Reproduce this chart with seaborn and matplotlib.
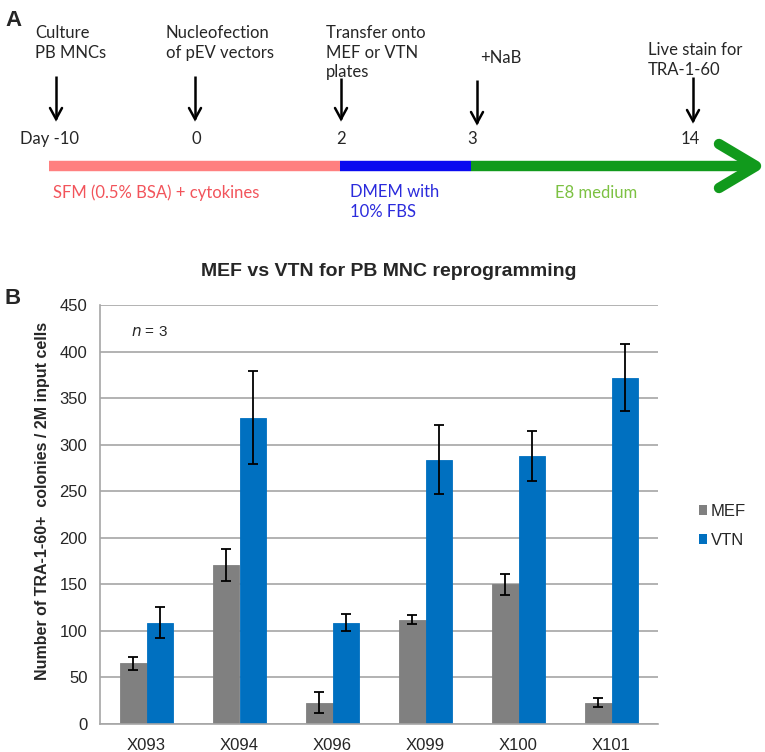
"""Reprogramming timeline (A) and MEF vs VTN colony counts (B)."""
import matplotlib
matplotlib.use("Agg")
import matplotlib.pyplot as plt
from matplotlib.ticker import MultipleLocator
import pandas as pd
import seaborn as sns

sns.set_style("white")
plt.rcParams["font.family"] = ["Liberation Sans", "DejaVu Sans"]

# ---- panel A: timeline ----
event_text = ["Culture\nPB MNCs", "Nucleofection\nof pEV vectors",
              "Transfer onto\nMEF or VTN\nplates", "+NaB", "Live stain for\nTRA-1-60"]
event_days = ["Day -10", "0", "2", "3", "14"]
phase_text = ["SFM (0.5% BSA) + cytokines", "DMEM with\n10% FBS", "E8 medium"]

# ---- panel B: colony counts (mean, error) ----
lines = ["X093", "X094", "X096", "X099", "X100", "X101"]
mef_mean = [65, 171, 23, 112, 150, 23]
mef_err = [7, 17, 11, 5, 11, 5]
vtn_mean = [109, 329, 109, 284, 288, 372]
vtn_err = [17, 50, 9, 37, 27, 36]

W, H = 765, 752
fig = plt.figure(figsize=(W / 100, H / 100), dpi=100)

# overlay axes in pixel units for the timeline drawing
ax_a = fig.add_axes([0, 0, 1, 1])
ax_a.set_xlim(0, W); ax_a.set_ylim(H, 0); ax_a.axis("off")

TL_FONT = ["Lato", "DejaVu Sans"]
ax_a.text(5, 20, "A", fontsize=16, fontweight="bold", va="center")
ax_a.text(5, 298, "B", fontsize=16, fontweight="bold", va="center")

text_pos = [(35, 25), (166, 25), (326, 25), (480, 50), (648, 42)]
for (x, y), t in zip(text_pos, event_text):
    ax_a.text(x, y, t, fontsize=12, family=TL_FONT, va="top", ha="left",
              linespacing=1.28)

arrow_x = [56, 195, 341, 477, 693]
arrow_top = [76, 76, 78, 80, 77]
arrow_bot = [119, 119, 119, 123, 121]
for x, y0, y1 in zip(arrow_x, arrow_top, arrow_bot):
    ax_a.plot([x, x], [y0, y1], color="black", lw=1.8, solid_capstyle="butt")
    ax_a.plot([x - 6, x, x + 6], [y1 - 11, y1, y1 - 11], color="black", lw=1.8,
              solid_joinstyle="miter")

day_x = [50, 196, 341, 472, 690]
for x, d in zip(day_x, event_days):
    ax_a.text(x, 139, d, fontsize=12, family=TL_FONT, ha="center", va="center")

band_x = [49, 340, 471, 752]
band_col = ["#ff8080", "#0a0af0", "#119a1c"]
for x0, x1, c in zip(band_x[:-1], band_x[1:], band_col):
    ax_a.plot([x0, x1], [166, 166], color=c, lw=7.5, solid_capstyle="butt")
ax_a.plot([719, 756, 719], [144, 166, 188], color="#119a1c", lw=7.5,
          solid_capstyle="round", solid_joinstyle="round")

phase_pos = [(53, 193), (350, 184), (596, 193)]
phase_ha = ["left", "left", "center"]
phase_col = ["#f2545b", "#2b2bdc", "#7cc142"]
for (x, y), ha, t, c in zip(phase_pos, phase_ha, phase_text, phase_col):
    ax_a.text(x, y, t, fontsize=12, family=TL_FONT, color=c, ha=ha,
              va="top" if "\n" in t else "center", linespacing=1.28)

# ---- panel B ----
df = pd.DataFrame({
    "line": lines * 2,
    "count": mef_mean + vtn_mean,
    "substrate": ["MEF"] * len(lines) + ["VTN"] * len(lines),
})
ax = fig.add_axes([100 / W, 1 - 724 / H, 558 / W, 419 / H])
sns.barplot(data=df, x="line", y="count", hue="substrate", order=lines,
            palette={"MEF": "#808080", "VTN": "#0070c0"}, width=0.56, gap=0,
            saturation=1, errorbar=None, linewidth=0, ax=ax)
for cont, errs in zip(ax.containers, [mef_err, vtn_err]):
    for b in cont:
        # close the anti-aliasing seam between touching bars
        b.set_edgecolor(b.get_facecolor()); b.set_linewidth(0.6)
    xs = [b.get_x() + b.get_width() / 2 for b in cont]
    ys = [b.get_height() for b in cont]
    ax.errorbar(xs, ys, yerr=errs, fmt="none", ecolor="black", elinewidth=1.3,
                capsize=3.5, capthick=1.3, zorder=5)

ax.set_ylim(0, 450)
ax.set_xlim(-0.5, len(lines) - 0.5)
ax.yaxis.set_major_locator(MultipleLocator(50))
ax.grid(axis="y", color="#a6a6a6", lw=1.2)
ax.set_axisbelow(True)
for s in ["top", "right"]:
    ax.spines[s].set_visible(False)
for s in ["left", "bottom"]:
    ax.spines[s].set_color("#a6a6a6"); ax.spines[s].set_linewidth(1.2)
ax.tick_params(axis="y", length=5, color="#a6a6a6", width=1.2, labelsize=12, pad=4)
ax.tick_params(axis="x", which="major", length=0, labelsize=12, pad=10)
ax.set_xticks([i - 0.5 for i in range(len(lines) + 1)], minor=True)
ax.tick_params(axis="x", which="minor", length=5, color="#a6a6a6", width=1.2)
ax.set_xlabel("")
ax.set_ylabel("Number of TRA-1-60+  colonies / 2M input cells", fontsize=11.5,
              fontweight="bold")
ax.yaxis.set_label_coords((43 - 100) / 558, (724 - 501) / 419)
ax.yaxis.label.set_va("center")
ax.text(0.055, 0.935, "$n$ = 3", transform=ax.transAxes, fontsize=11, va="center")

ax.legend(loc="center left", bbox_to_anchor=(684 / W, 1 - 526 / H),
          bbox_transform=fig.transFigure, frameon=False, fontsize=12,
          handlelength=0.5, handleheight=0.5, handletextpad=0.2, labelspacing=0.85)

fig.text(389 / W, 1 - 272 / H, "MEF vs VTN for PB MNC reprogramming",
         fontsize=14, fontweight="bold", ha="center", va="center")

fig.savefig("out.png", dpi=100)
